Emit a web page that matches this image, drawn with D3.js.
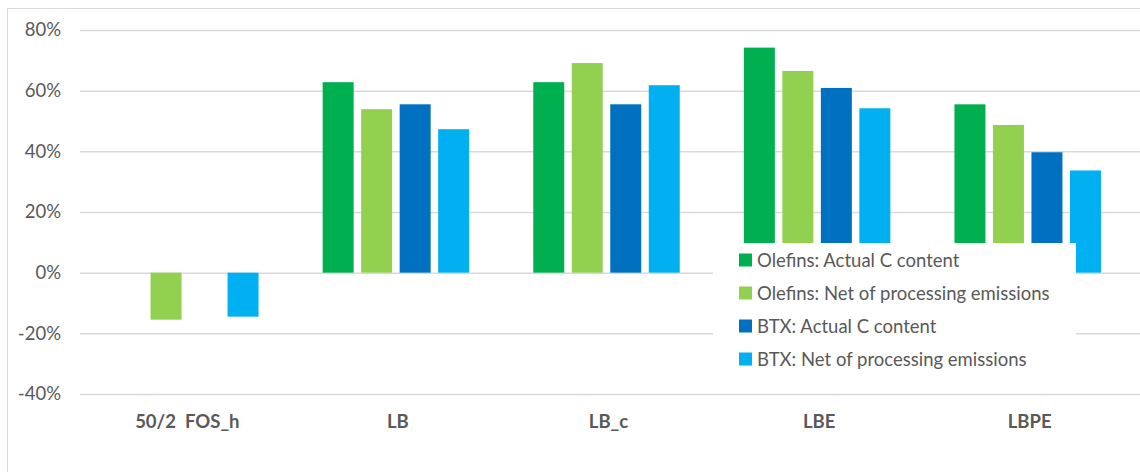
<!DOCTYPE html>
<html>
<head>
<meta charset="utf-8">
<script src="https://cdn.jsdelivr.net/npm/d3@7"></script>
<style>
  body { margin: 0; background: #fff; }
  text { font-family: Lato, "Open Sans", sans-serif; fill: #595959; }
</style>
</head>
<body>
<script>
var width = 1140;
var height = 472;

var categories = ["50/2  FOS_h", "LB", "LB_c", "LBE", "LBPE"];
var seriesNames = ["Olefins: Actual C content", "Olefins: Net of processing emissions",
	"BTX: Actual C content", "BTX: Net of processing emissions"];
var seriesColors = ["#00B050", "#92D050", "#0070C0", "#00B0F0"];
var olefinsActual = [0, 0.628, 0.628, 0.742, 0.555];
var olefinsNet = [-0.155, 0.539, 0.691, 0.665, 0.487];
var btxActual = [0, 0.555, 0.555, 0.609, 0.397];
var btxNet = [-0.145, 0.473, 0.618, 0.542, 0.337];
var yTicks = [-0.4, -0.2, 0, 0.2, 0.4, 0.6, 0.8];

var series = [olefinsActual, olefinsNet, btxActual, btxNet];
var fontSize = 18.5;

var svg = d3.select("body").append("svg")
	.attr("width", width).attr("height", height);

// outer chart border
svg.append("rect").attr("x", 7.5).attr("y", 8.5)
	.attr("width", width + 10).attr("height", height + 10)
	.attr("fill", "none").attr("stroke", "#d9d9d9");

var plotLeft = 80, plotRight = 1140, plotTop = 30, plotBottom = 394;

var y = d3.scaleLinear().domain([-0.4, 0.8]).range([plotBottom, plotTop]);
var x = d3.scaleBand().domain(categories).range([plotLeft, 1133]);
var groupW = 146.5;
var xs = d3.scaleBand().domain(d3.range(4)).range([0, groupW]).paddingInner(0.195);

var pct = d3.formatLocale({decimal: ".", thousands: ",", grouping: [3], currency: ["", ""], minus: "-"}).format(".0%");

// gridlines
var yAxis = d3.axisLeft(y).tickValues(yTicks).tickFormat(pct)
	.tickSize(-(plotRight - plotLeft)).tickPadding(19);
var ga = svg.append("g").attr("transform", "translate(" + plotLeft + ",0)").call(yAxis);
ga.select(".domain").remove();
ga.selectAll(".tick line").attr("stroke", "#d9d9d9").attr("stroke-width", 1.5);
ga.selectAll(".tick text").attr("font-size", fontSize).style("fill", "#595959")
	.style("font-family", "Lato, 'Open Sans', sans-serif");

// bars
var groups = svg.selectAll(".grp").data(categories).enter().append("g")
	.attr("transform", function(d) { return "translate(" + (x(d) + x.bandwidth() / 2 - groupW / 2) + ",0)"; });

series.forEach(function(vals, s) {
	groups.append("rect")
		.attr("x", xs(s))
		.attr("width", xs.bandwidth())
		.attr("y", function(d, i) { return y(Math.max(0, vals[i])); })
		.attr("height", function(d, i) { return Math.abs(y(vals[i]) - y(0)); })
		.attr("fill", seriesColors[s]);
});

// category labels
svg.selectAll(".xl").data(categories).enter().append("text")
	.attr("x", function(d) { return x(d) + x.bandwidth() / 2 + 2; })
	.attr("y", 428)
	.attr("text-anchor", "middle")
	.attr("font-size", fontSize)
	.attr("font-weight", "bold")
	.attr("xml:space", "preserve")
	.text(function(d) { return d; });

// legend
var lg = svg.append("g");
lg.append("rect").attr("x", 713).attr("y", 243).attr("width", 363).attr("height", 130).attr("fill", "#fff");
seriesNames.forEach(function(name, i) {
	var cy = 260 + i * 33;
	lg.append("rect").attr("x", 739).attr("y", cy - 6.5).attr("width", 13).attr("height", 13)
		.attr("fill", seriesColors[i]);
	lg.append("text").attr("x", 757).attr("y", cy + 6.5).attr("font-size", fontSize).text(name);
});
</script>
</body>
</html>
